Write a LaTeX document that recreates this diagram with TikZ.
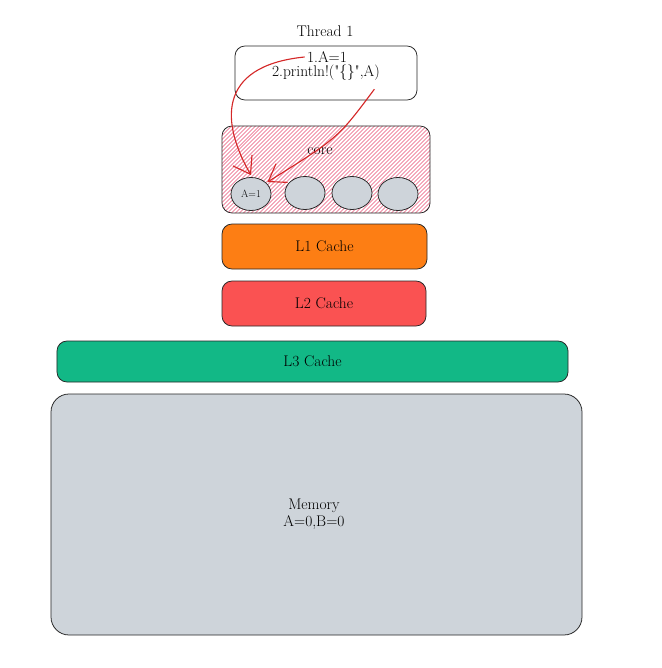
\documentclass[tikz,border=0pt]{standalone}
\usetikzlibrary{arrows.meta,patterns.meta,shapes.geometric}
\definecolor{lone}{HTML}{FD7E14}
\definecolor{ltwo}{HTML}{FA5252}
\definecolor{lthree}{HTML}{12B886}
\definecolor{memgray}{HTML}{CED4DA}
\definecolor{arrred}{HTML}{D42828}
\definecolor{hatchpink}{HTML}{EE7D98}
\begin{document}
\begin{tikzpicture}[x=0.5mm,y=-0.5mm,font=\fontsize{22}{25}\selectfont,
  box/.style={draw=black!85,line width=1.1pt,rounded corners=5mm,inner sep=0pt},
  reg/.style={ellipse,draw=black!85,line width=1.1pt,fill=memgray,minimum width=20mm,minimum height=16.5mm,inner sep=0pt},
  flow/.style={draw=arrred,line width=1.6pt,-{Straight Barb[length=8mm,width=11mm,line width=1.6pt]}}]
\useasboundingbox (0,0) rectangle (661,668);
% thread
\node (title) at (325,31) {Thread 1};
\node[box,minimum width=91mm,minimum height=27mm] (thread) at (326,73) {};
\node (l1) at (327,57) {1.A=1};
\node (l2) at (326,73) {2.println!(\textquotedbl\{\}\textquotedbl,A)};
% core with registers
\node[box,pattern={Lines[angle=45,distance=4pt,line width=1.1pt]},pattern color=hatchpink,
  minimum width=104mm,minimum height=43.5mm] (core) at (326,169.5) {};
\node (corelbl) at (320,151) {core};
\node[reg,font=\fontsize{15}{17}\selectfont] (r1) at (251,194) {A=1};
\node[reg] (r2) at (305,193) {};
\node[reg] (r3) at (352,193) {};
\node[reg] (r4) at (398,194) {};
% caches and memory
\node[box,fill=lone,minimum width=102.5mm,minimum height=22.5mm] (L1) at (324.5,246.5) {L1 Cache};
\node[box,fill=ltwo,minimum width=102mm,minimum height=22.5mm] (L2) at (324,303.5) {L2 Cache};
\node[box,fill=lthree,minimum width=255.5mm,minimum height=20.5mm] (L3) at (312.5,361.5) {L3 Cache};
\node[box,fill=memgray,rounded corners=9mm,minimum width=265.5mm,minimum height=120.5mm] (mem) at (316.5,514.5) {};
\node[align=center] (memlbl) at (314,514) {Memory\\A=0,B=0};
% writes
\draw[flow] (l1.west) .. controls (215,66) and (222,125) .. ([yshift=1mm]r1.north);
\draw[flow] ([xshift=-4mm,yshift=-3mm]l2.south east) .. controls (338,138) .. ([xshift=1mm]r1.north east);
\end{tikzpicture}
\end{document}
